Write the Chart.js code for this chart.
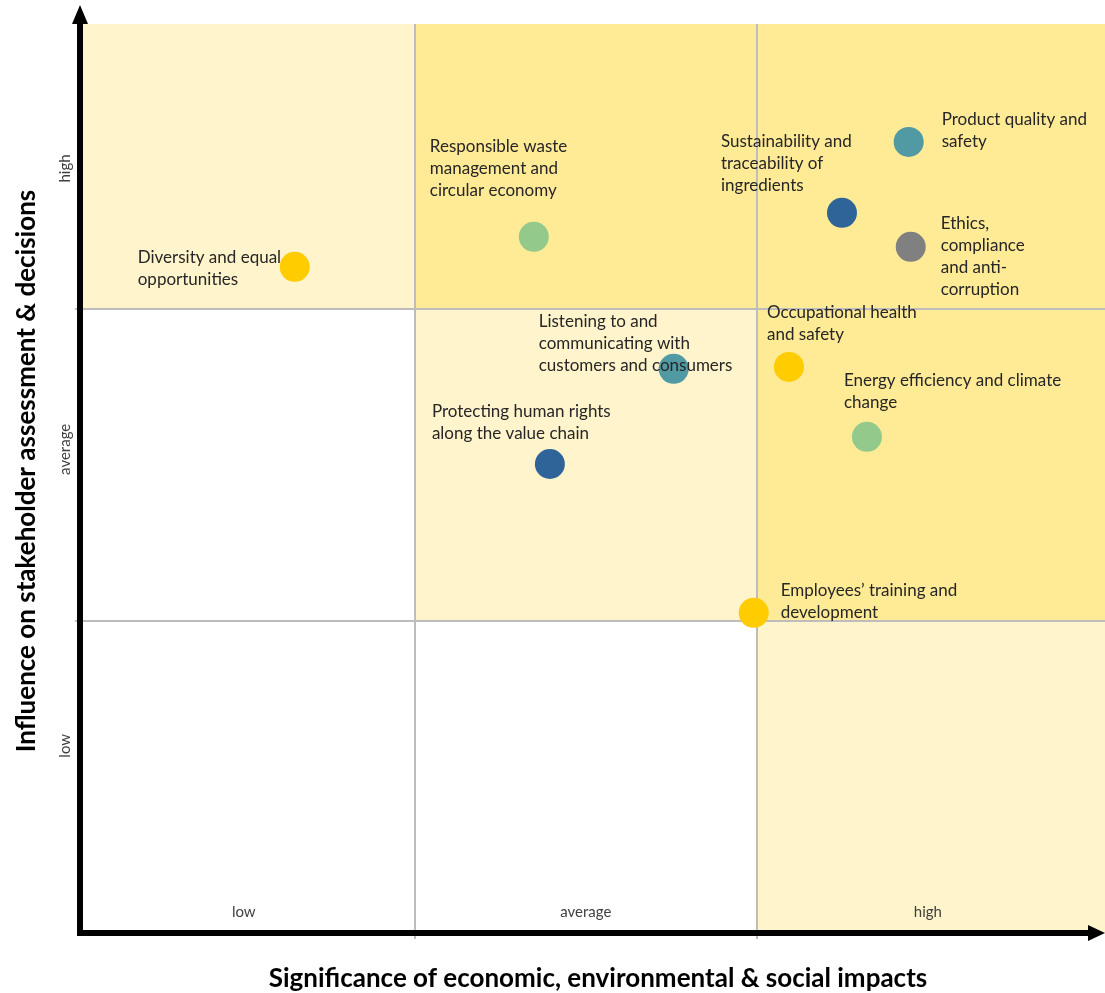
<!DOCTYPE html>
<html>
<head>
<meta charset="utf-8">
<script src="https://cdn.jsdelivr.net/npm/chart.js@4.4.1/dist/chart.umd.min.js"></script>
<style>
  html, body { margin: 0; padding: 0; background: #ffffff; }
  #wrap { width: 1105px; height: 993px; position: relative; }
</style>
</head>
<body>
<div id="wrap"><canvas id="c" width="1105" height="993"></canvas></div>
<script>
// ---- data ----
const topics = [
  "Diversity and equal opportunities",
  "Responsible waste management and circular economy",
  "Sustainability and traceability of ingredients",
  "Product quality and safety",
  "Ethics, compliance and anti-corruption",
  "Listening to and communicating with customers and consumers",
  "Occupational health and safety",
  "Energy efficiency and climate change",
  "Protecting human rights along the value chain",
  "Employees’ training and development"
];
const labelLines = [
  ["Diversity and equal", "opportunities"],
  ["Responsible waste", "management and", "circular economy"],
  ["Sustainability and", "traceability of", "ingredients"],
  ["Product quality and", "safety"],
  ["Ethics,", "compliance", "and anti-", "corruption"],
  ["Listening to and", "communicating with", "customers and consumers"],
  ["Occupational health", "and safety"],
  ["Energy efficiency and climate", "change"],
  ["Protecting human rights", "along the value chain"],
  ["Employees’ training and", "development"]
];
const significance = [0.649, 1.348, 2.249, 2.444, 2.450, 1.757, 2.094, 2.322, 1.395, 1.991];
const influence    = [2.135, 2.231, 2.308, 2.535, 2.199, 1.808, 1.814, 1.590, 1.503, 1.026];
const levelLabels = ["low", "average", "high"];
const xTitle = "Significance of economic, environmental & social impacts";
const yTitle = "Influence on stakeholder assessment & decisions";

// ---- styles ----
const pointColors = ["#FFCC00", "#93CA8B", "#2F6498", "#5199A3", "#808080",
                     "#5199A3", "#FFCC00", "#93CA8B", "#2F6498", "#FFCC00"];
// label offsets in pixels relative to the point (first line centre)
const labelOffsets = [[-157,-9],[-104,-90],[-121,-71],[33,-22],[30,-23],
                      [-135,-47],[-22,-54],[-23,-56],[-118,-52],[27,-22]];
// cell shading: rows from top (high) to bottom (low), columns low→high; 0 none, 1 pale, 2 strong
const cellShade = [[1,2,2],[0,1,2],[0,0,1]];
const shadeColors = [null, "#FFF4CB", "#FFEA96"];

const matrixPlugin = {
  id: 'matrix',
  beforeDatasetsDraw(chart) {
    const {ctx, chartArea: a, scales: {x, y}} = chart;
    const xb = [x.min, 1, 2, x.max];
    const yb = [y.max, 2, 1, y.min];
    ctx.save();
    for (let r = 0; r < 3; r++) {
      for (let c = 0; c < 3; c++) {
        const s = cellShade[r][c];
        if (!s) continue;
        const x0 = x.getPixelForValue(xb[c]), x1 = x.getPixelForValue(xb[c+1]);
        const y0 = y.getPixelForValue(yb[r]), y1 = y.getPixelForValue(yb[r+1]);
        ctx.fillStyle = shadeColors[s];
        ctx.fillRect(x0, y0, x1 - x0, y1 - y0);
      }
    }
    // grid lines
    ctx.strokeStyle = "#BDBDBD";
    ctx.lineWidth = 2;
    [1, 2].forEach(v => {
      const px = Math.round(x.getPixelForValue(v));
      ctx.beginPath(); ctx.moveTo(px, a.top); ctx.lineTo(px, a.bottom + 6); ctx.stroke();
      const py = Math.round(y.getPixelForValue(v));
      ctx.beginPath(); ctx.moveTo(a.left - 8, py); ctx.lineTo(a.right, py); ctx.stroke();
    });
    // level labels
    ctx.fillStyle = "#404040";
    ctx.font = "15px Lato, 'Open Sans', sans-serif";
    ctx.textAlign = "center";
    ctx.textBaseline = "middle";
    levelLabels.forEach((t, i) => {
      ctx.fillText(t, x.getPixelForValue(i + 0.5), a.bottom - 21);
    });
    const yPos = [0.6, 1.55, 2.45];
    levelLabels.forEach((t, i) => {
      ctx.save();
      ctx.translate(a.left - 18, y.getPixelForValue(yPos[i]));
      ctx.rotate(-Math.PI / 2);
      ctx.fillText(t, 0, 0);
      ctx.restore();
    });
    ctx.restore();
  },
  afterDatasetsDraw(chart) {
    const {ctx, chartArea: a} = chart;
    const meta = chart.getDatasetMeta(0);
    ctx.save();
    ctx.fillStyle = "#262626";
    ctx.font = "17px Lato, 'Open Sans', sans-serif";
    ctx.textAlign = "left";
    ctx.textBaseline = "middle";
    meta.data.forEach((pt, i) => {
      const [dx, dy] = labelOffsets[i];
      labelLines[i].forEach((line, k) => {
        ctx.fillText(line, pt.x + dx, pt.y + dy + k * 22);
      });
    });
    // axes with arrows
    ctx.fillStyle = "#000";
    ctx.strokeStyle = "#000";
    ctx.lineWidth = 6;
    const ax = a.left - 3, ay = a.bottom;
    ctx.beginPath(); ctx.moveTo(ax, ay + 3); ctx.lineTo(ax, 20); ctx.stroke();
    ctx.beginPath(); ctx.moveTo(ax, 5); ctx.lineTo(ax - 8, 24); ctx.lineTo(ax + 8, 24); ctx.closePath(); ctx.fill();
    ctx.beginPath(); ctx.moveTo(ax - 3, ay); ctx.lineTo(1090, ay); ctx.stroke();
    ctx.beginPath(); ctx.moveTo(1105, ay); ctx.lineTo(1088, ay - 8); ctx.lineTo(1088, ay + 8); ctx.closePath(); ctx.fill();
    // titles
    ctx.fillStyle = "#000";
    ctx.font = "bold 26px Lato, 'Open Sans', sans-serif";
    ctx.textAlign = "center";
    ctx.fillText(xTitle, 598, 979);
    ctx.save();
    ctx.translate(27, 471);
    ctx.rotate(-Math.PI / 2);
    ctx.fillText(yTitle, 0, 0);
    ctx.restore();
    ctx.restore();
  }
};

new Chart(document.getElementById('c'), {
  type: 'scatter',
  data: {
    datasets: [{
      label: 'Topics',
      data: topics.map((t, i) => ({x: significance[i], y: influence[i]})),
      pointBackgroundColor: pointColors,
      pointBorderWidth: 0,
      pointRadius: 15,
      pointHoverRadius: 15,
      clip: false
    }]
  },
  options: {
    responsive: false,
    animation: false,
    layout: { autoPadding: false, padding: { left: 83, top: 24, right: 0, bottom: 60 } },
    plugins: { legend: { display: false }, tooltip: { enabled: false } },
    scales: {
      x: { type: 'linear', min: 0.03, max: 3.018, display: false },
      y: { type: 'linear', min: 0, max: 2.913, display: false }
    }
  },
  plugins: [matrixPlugin]
});
</script>
</body>
</html>
